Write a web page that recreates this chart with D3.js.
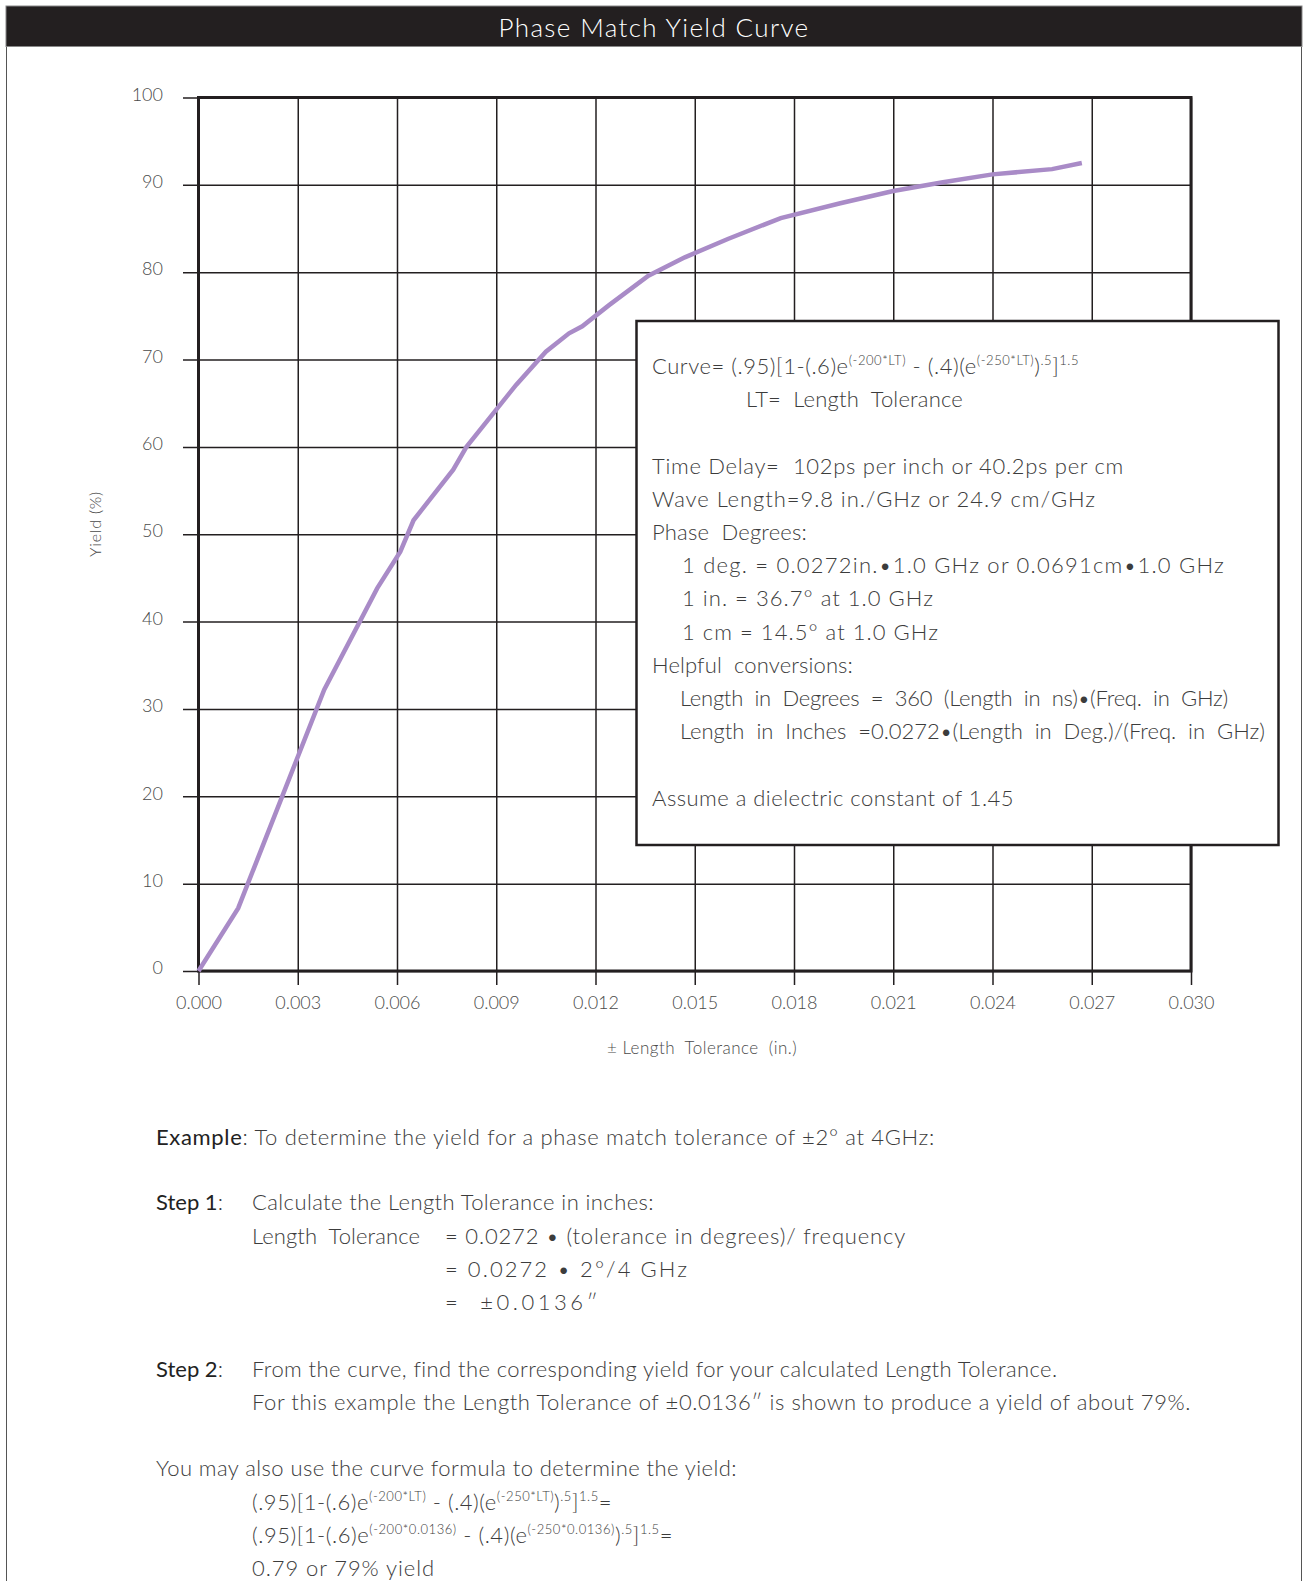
<!DOCTYPE html>
<html>
<head>
<meta charset="utf-8">
<script src="https://cdn.jsdelivr.net/npm/d3@7"></script>
<style>
  html, body { margin: 0; padding: 0; background: #fff; }
  svg { display: block; }
  text { font-family: Lato, "Open Sans", sans-serif; font-weight: 300; }
</style>
</head>
<body>
<svg id="chart" width="1303" height="1581"></svg>
<script>
// ---------- data ----------
const chartTitle = "Phase Match Yield Curve";
const xTickValues = [0, 0.003, 0.006, 0.009, 0.012, 0.015, 0.018, 0.021, 0.024, 0.027, 0.030];
const yTickValues = [0, 10, 20, 30, 40, 50, 60, 70, 80, 90, 100];
const lengthTolerance = [0, 0.0012, 0.0038, 0.0054, 0.0061, 0.0065, 0.0077, 0.0081, 0.0096, 0.0105,
  0.0112, 0.0116, 0.0124, 0.0136, 0.0147, 0.0160, 0.0176, 0.0194, 0.0210, 0.0225, 0.0240, 0.0258, 0.0267];
const yieldPct = [0, 7.2, 32.2, 43.8, 48.0, 51.6, 57.4, 60.0, 67.1, 70.9,
  73.0, 73.8, 76.2, 79.6, 81.7, 83.8, 86.2, 87.9, 89.3, 90.3, 91.2, 91.8, 92.5];
const xAxisTitle = "\u00B1 Length  Tolerance  (in.)";
const yAxisTitle = "Yield (%)";

// text lines: arrays of [text, isSuperscript, isBold]
const boxLines = [
  [["Curve= (.95)[1-(.6)e"], ["(-200*LT)", 1], [" - (.4)(e"], ["(-250*LT)", 1], [")"], [".5", 1], ["]"], ["1.5", 1]],
  [["LT=  Length  Tolerance"]],
  null,
  [["Time Delay=  102ps per inch or 40.2ps per cm"]],
  [["Wave Length=9.8 in./GHz or 24.9 cm/GHz"]],
  [["Phase  Degrees:"]],
  [["1 deg. = 0.0272in.\u20221.0 GHz or 0.0691cm\u20221.0 GHz"]],
  [["1 in. = 36.7\u00B0 at 1.0 GHz"]],
  [["1 cm = 14.5\u00B0 at 1.0 GHz"]],
  [["Helpful  conversions:"]],
  [["Length  in  Degrees  =  360  (Length  in  ns)\u2022(Freq.  in  GHz)"]],
  [["Length  in  Inches  =0.0272\u2022(Length  in  Deg.)/(Freq.  in  GHz)"]],
  null,
  [["Assume a dielectric constant of 1.45"]]
];
const boxIndent = [0, 94, 0, 0, 0, 0, 30, 30, 30, 0, 28, 28, 0, 0];
const boxWidths = [427, 217, 0, 472, 444, 155, 543, 252, 257, 201, 548, 585, 0, 362];

// ---------- layout ----------
const svg = d3.select("#chart");
const W = 1303, H = 1581;
const plot = { left: 198.5, right: 1191, top: 97.5, bottom: 971 };

const x = d3.scaleLinear().domain([0, 0.030]).range([plot.left, plot.right]);
const y = d3.scaleLinear().domain([0, 100]).range([plot.bottom, plot.top]);

const ink = "#231f20";
const textCol = "#3c3c3c";

function fitWidth(sel, target) {
  if (!target) return;
  const node = sel.node();
  const natural = node.getComputedTextLength();
  const n = node.textContent.length;
  if (n > 1) sel.attr("letter-spacing", ((target - natural) / n).toFixed(3));
}

// page frame
svg.append("line").attr("x1", 6.5).attr("x2", 6.5).attr("y1", 6).attr("y2", H).attr("stroke", "#555").attr("stroke-width", 1);
svg.append("line").attr("x1", 1301.5).attr("x2", 1301.5).attr("y1", 6).attr("y2", H).attr("stroke", "#555").attr("stroke-width", 1);
svg.append("rect").attr("x", 6).attr("y", 6).attr("width", 1296).attr("height", 40.5)
  .attr("fill", ink).attr("stroke", "#888").attr("stroke-width", 1);
const titleT = svg.append("text").attr("x", 654).attr("y", 27).attr("text-anchor", "middle").attr("dominant-baseline", "central")
  .attr("fill", "#fff").attr("font-size", 26).text(chartTitle);
fitWidth(titleT, 311);

// gridlines via axes
const yAxis = d3.axisLeft(y).tickValues(yTickValues)
  .tickSize(-(plot.right - 183)).tickPadding(20).tickFormat(d3.format("d"));
const gy = svg.append("g").attr("transform", `translate(183,0)`).call(yAxis);
gy.select(".domain").remove();
gy.selectAll(".tick line").attr("stroke", ink).attr("stroke-width", 1.5);
gy.selectAll(".tick text").attr("fill", "#4a4a4a").attr("font-size", 18)
  .attr("font-family", "Lato, sans-serif").attr("font-weight", 300).attr("dy", "0.15em");

const xAxis = d3.axisBottom(x).tickValues(xTickValues)
  .tickSize(-(985 - plot.top)).tickPadding(14).tickFormat(d3.format(".3f"));
const gx = svg.append("g").attr("transform", `translate(0,985)`).call(xAxis);
gx.select(".domain").remove();
gx.selectAll(".tick line").attr("stroke", ink).attr("stroke-width", 1.5);
gx.selectAll(".tick text").attr("fill", "#4a4a4a").attr("font-size", 18)
  .attr("font-family", "Lato, sans-serif").attr("font-weight", 300).attr("dy", "0.55em");

// plot frame
svg.append("rect").attr("x", plot.left).attr("y", plot.top)
  .attr("width", plot.right - plot.left).attr("height", plot.bottom - plot.top)
  .attr("fill", "none").attr("stroke", ink).attr("stroke-width", 3);

// axis titles
const xt = svg.append("text").attr("x", 702).attr("y", 1047).attr("text-anchor", "middle").attr("dominant-baseline", "central")
  .attr("fill", "#4a4a4a").attr("font-size", 17).style("white-space", "pre").text(xAxisTitle);
fitWidth(xt, 190);
const yt = svg.append("text").attr("transform", "translate(94,524) rotate(-90)").attr("text-anchor", "middle")
  .attr("dominant-baseline", "central").attr("fill", "#4a4a4a").attr("font-size", 16).text(yAxisTitle);
fitWidth(yt, 66);

// curve
const pts = lengthTolerance.map((v, i) => [v, yieldPct[i]]);
const line = d3.line().x(d => x(d[0])).y(d => y(d[1]));
svg.append("path").datum(pts).attr("d", line).attr("fill", "none")
  .attr("stroke", "#a98bc7").attr("stroke-width", 4.5).attr("stroke-linejoin", "miter");

// info box
svg.append("rect").attr("x", 636.5).attr("y", 321).attr("width", 642).attr("height", 524)
  .attr("fill", "#fff").attr("stroke", ink).attr("stroke-width", 2.5);

function writeLine(parent, segs, x0, y0, size, supSize, color) {
  const t = parent.append("text").attr("x", x0).attr("y", y0).attr("fill", color)
    .attr("font-size", size).style("white-space", "pre");
  let shifted = false;
  segs.forEach(s => {
    const sp = t.append("tspan").text(s[0]);
    if (s[1]) {
      sp.attr("font-size", supSize);
      if (!shifted) { sp.attr("dy", -size * 0.4); shifted = true; }
    } else if (shifted) {
      sp.attr("dy", size * 0.4); shifted = false;
    }
    if (s[2]) sp.attr("font-weight", 400).attr("fill", "#222");
  });
  return t;
}

const boxG = svg.append("g");
boxLines.forEach((ln, i) => {
  if (!ln) return;
  const t = writeLine(boxG, ln, 652 + boxIndent[i], 374 + i * 33.2, 22, 13, textCol);
  fitWidth(t, boxWidths[i]);
});

// example text below chart
const exampleLines = [
  { x: 156, y: 1145, w: 779, segs: [["Example", 0, 1], [": To determine the yield for a phase match tolerance of \u00B12\u00B0 at 4GHz:"]] },
  { x: 156, y: 1210, w: 0, segs: [["Step 1", 0, 1], [":"]] },
  { x: 252, y: 1210, w: 402, segs: [["Calculate the Length Tolerance in inches:"]] },
  { x: 252, y: 1244, w: 168, segs: [["Length  Tolerance"]] },
  { x: 445, y: 1244, w: 461, segs: [["= 0.0272 \u2022 (tolerance in degrees)/ frequency"]] },
  { x: 445, y: 1277, w: 244, segs: [["= 0.0272 \u2022 2\u00B0/4 GHz"]] },
  { x: 445, y: 1310, w: 156, segs: [["=  \u00B10.0136\u2033"]] },
  { x: 156, y: 1377, w: 0, segs: [["Step 2", 0, 1], [":"]] },
  { x: 252, y: 1377, w: 805, segs: [["From the curve, find the corresponding yield for your calculated Length Tolerance."]] },
  { x: 252, y: 1410, w: 939, segs: [["For this example the Length Tolerance of \u00B10.0136\u2033 is shown to produce a yield of about 79%."]] },
  { x: 156, y: 1476, w: 581, segs: [["You may also use the curve formula to determine the yield:"]] },
  { x: 252, y: 1510, w: 360, segs: [["(.95)[1-(.6)e"], ["(-200*LT)", 1], [" - (.4)(e"], ["(-250*LT)", 1], [")"], [".5", 1], ["]"], ["1.5", 1], ["="]] },
  { x: 252, y: 1543, w: 421, segs: [["(.95)[1-(.6)e"], ["(-200*0.0136)", 1], [" - (.4)(e"], ["(-250*0.0136)", 1], [")"], [".5", 1], ["]"], ["1.5", 1], ["="]] },
  { x: 252, y: 1576, w: 183, segs: [["0.79 or 79% yield"]] }
];
const exG = svg.append("g");
exampleLines.forEach(l => {
  const t = writeLine(exG, l.segs, l.x, l.y, 22, 13, textCol);
  fitWidth(t, l.w);
});
</script>
</body>
</html>
